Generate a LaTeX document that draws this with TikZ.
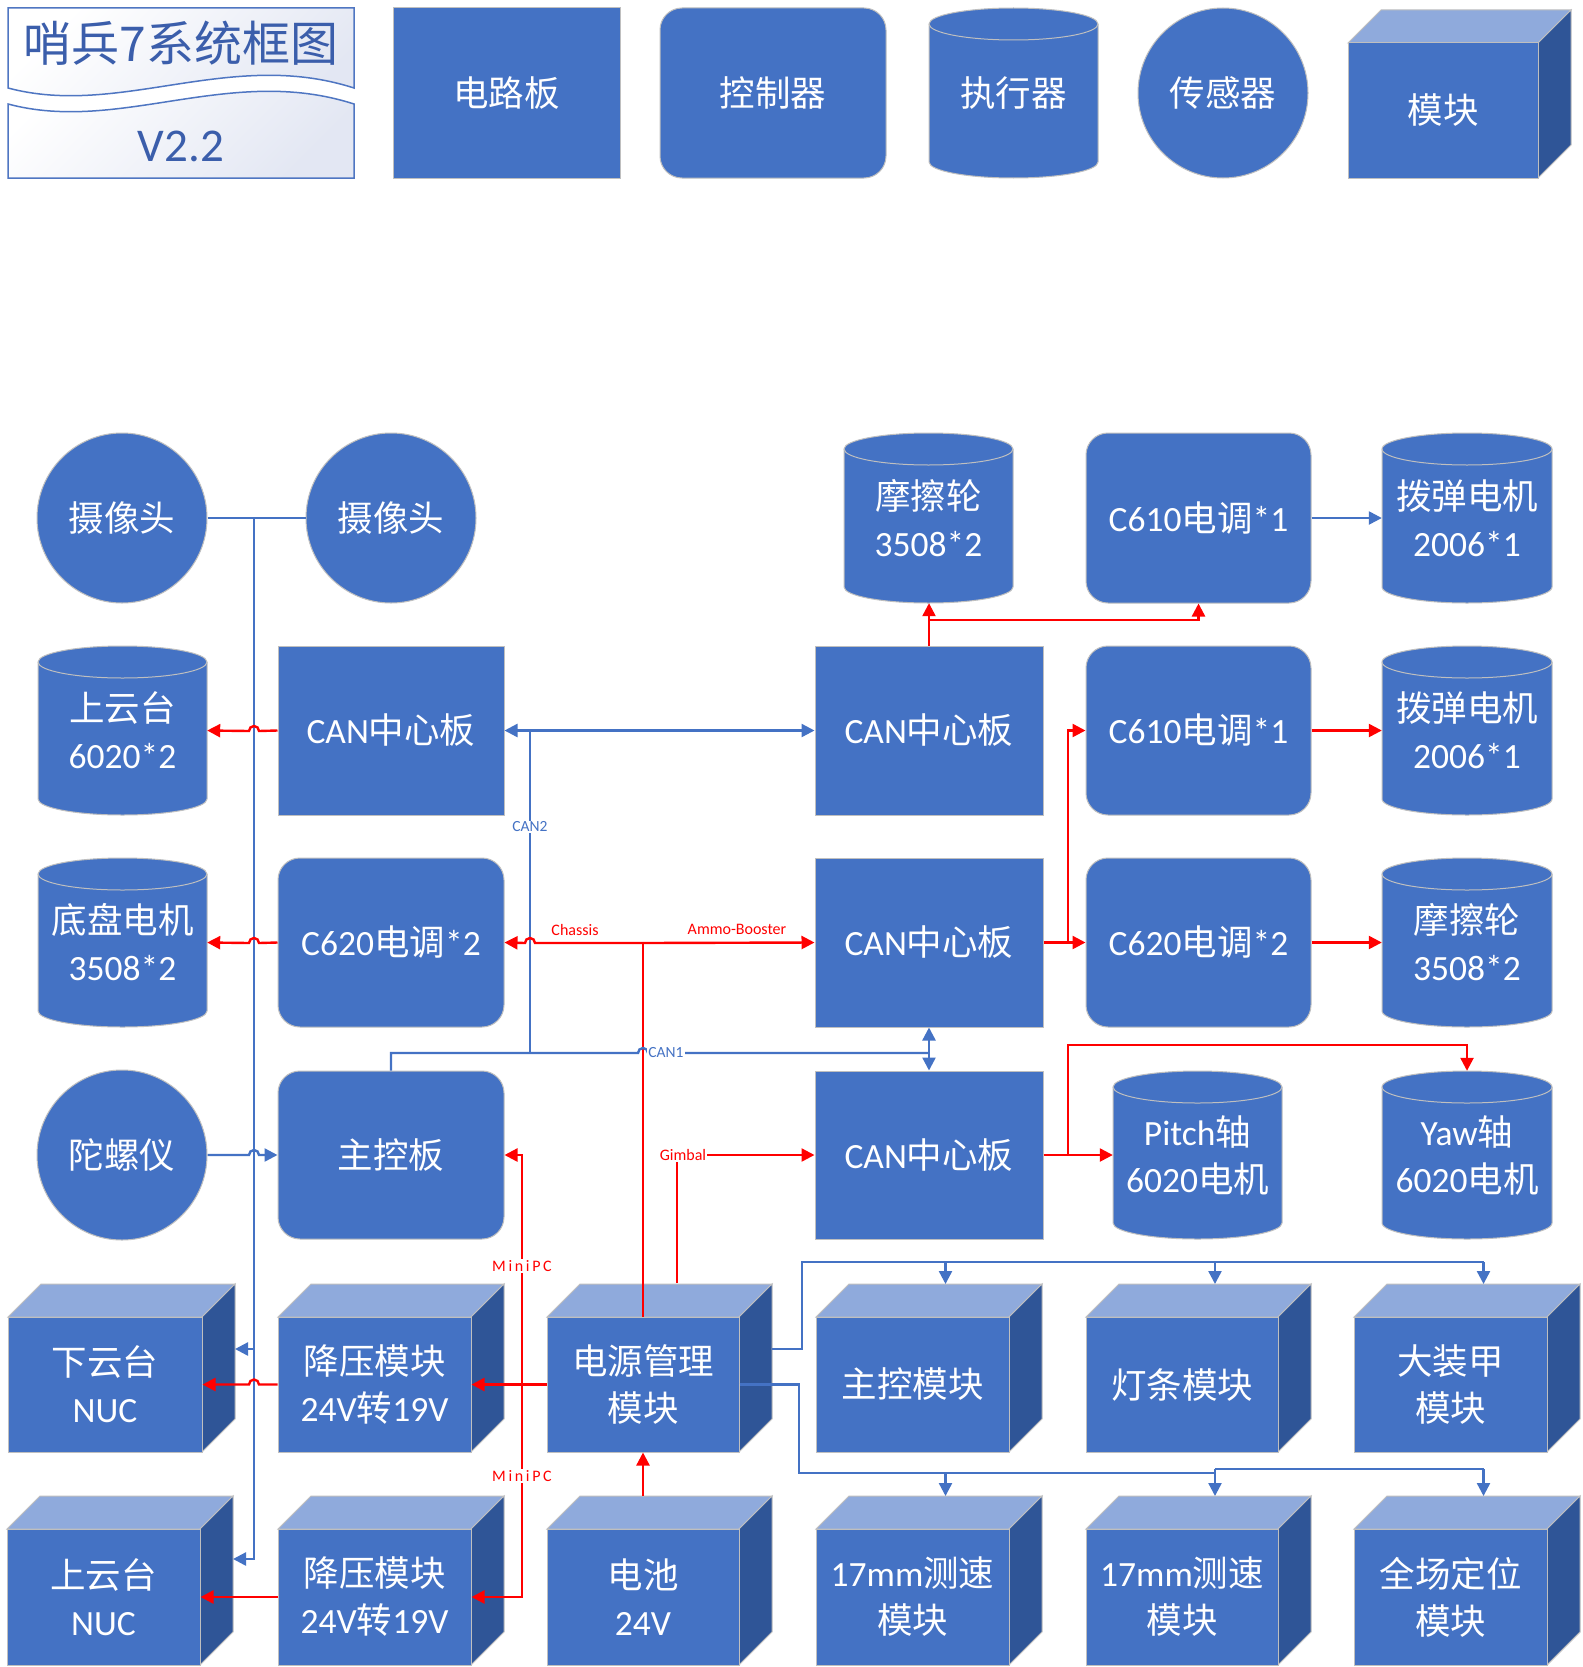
\documentclass[tikz,border=0pt]{standalone}
\usepackage{fontspec}
\setmainfont{Carlito}
\newfontfamily\cjk{Noto Sans CJK SC}
\usetikzlibrary{arrows.meta}
\definecolor{mainblue}{HTML}{4472C4}
\definecolor{cubetop}{HTML}{8FAADC}
\definecolor{cubeside}{HTML}{2F5597}
\definecolor{edgegray}{HTML}{BFBFBF}
\definecolor{lineblue}{HTML}{4472C4}
\definecolor{linered}{HTML}{FF0000}
\definecolor{titlebg}{HTML}{E3E7F3}
\definecolor{titleline}{HTML}{4F76C2}
\definecolor{titletext}{HTML}{3B5EAB}
\newcommand\zh[1]{{\cjk #1}}
\tikzset{
  base/.style={draw=edgegray, line width=1pt, fill=mainblue, text=white,
    font=\fontsize{35.5}{47}\selectfont, align=center, inner sep=0pt},
  rectbox/.style={base, rectangle},
  rbox/.style={base, rectangle, rounded corners=22pt},
  circbox/.style={base, circle, minimum size=170pt},
  textnode/.style={text=white, font=\fontsize{35.5}{47}\selectfont, align=center, inner sep=0pt},
  blueline/.style={draw=lineblue, line width=2.4pt},
  redline/.style={draw=linered, line width=2.4pt},
  arr/.style={-{Triangle[length=13pt,width=13pt]}},
  darr/.style={{Triangle[length=13pt,width=13pt]}-{Triangle[length=13pt,width=13pt]}},
  bluelabel/.style={fill=white, inner sep=1pt, text=lineblue, font=\fontsize{15.5}{18}\selectfont},
  redlabel/.style={fill=white, inner sep=1pt, text=linered, font=\fontsize{16}{18}\selectfont},
}
\newcommand\boxnode[7]{%
  \node[#1, minimum width={(#5-#3)*1pt}, minimum height={(#6-#4)*1pt}] (#2) at ({(#3+#5)/2},{(#4+#6)/2}) {#7};}
\newcommand\cylnode[6]{%
  \pgfmathsetmacro\cylrx{(#4-#2)/2}%
  \path[fill=mainblue, draw=edgegray, line width=1pt] (#2,#3+16) -- (#2,#5-16)
    arc[start angle=180, end angle=360, x radius=\cylrx pt, y radius=16pt] -- (#4,#3+16)
    arc[start angle=0, end angle=180, x radius=\cylrx pt, y radius=16pt] -- cycle;
  \draw[edgegray, line width=1pt] (#2,#3+16) arc[start angle=180, end angle=360, x radius=\cylrx pt, y radius=16pt];
  \node[textnode, minimum width={(#4-#2)*1pt}, minimum height={(#5-#3)*1pt}] (#1) at ({(#2+#4)/2},{(#3+#5)/2}) {#6};}
\newcommand\cubenode[6]{%
  \path[fill=cubetop, draw=edgegray, line width=1pt] (#2,#3) -- (#2+33,#3-33) -- (#4+33,#3-33) -- (#4,#3) -- cycle;
  \path[fill=cubeside, draw=edgegray, line width=1pt] (#4,#3) -- (#4+33,#3-33) -- (#4+33,#5-33) -- (#4,#5) -- cycle;
  \node[rectbox, minimum width={(#4-#2)*1pt}, minimum height={(#5-#3)*1pt}] (#1) at ({(#2+#4)/2},{(#3+#5)/2}) {#6};}
\begin{document}
\begin{tikzpicture}[x=1pt, y=-1pt]
\fill[white] (0,0) rectangle (1582,1667);
\useasboundingbox (0,0) rectangle (1582,1667);

% ---------- title ----------
\draw[draw=titleline, line width=1.5pt, top color=white, bottom color=titlebg, shading angle=45]
  (8,8) -- (354,8) -- (354,88) .. controls (230,48) and (120,118) .. (8,88) -- cycle;
\draw[draw=titleline, line width=1.5pt, top color=white, bottom color=titlebg, shading angle=45]
  (8,104) .. controls (120,134) and (230,64) .. (354,104) -- (354,178) -- (8,178) -- cycle;
\node[font=\cjk\fontsize{48}{52}\selectfont, text=titletext, inner sep=0pt] (title) at (181,43) {哨兵7系统框图};
\node[font=\fontsize{47}{52}\selectfont, text=titletext, inner sep=0pt] (ver) at (181,146) {V2.2};

% ---------- legend ----------
\boxnode{rectbox}{lgA}{393}{8}{620}{178}{\zh{电路板}}
\boxnode{rbox}{lgB}{660}{8}{886}{178}{\zh{控制器}}
\cylnode{lgC}{929}{8}{1098}{178}{\zh{执行器}}
\node[circbox] (lgD) at (1223,93) {\zh{传感器}};
\cubenode{lgE}{1348}{43}{1538}{178}{\zh{模块}}

% ---------- row 1 ----------
\node[circbox] (cam1) at (122,518) {\zh{摄像头}};
\node[circbox] (cam2) at (391,518) {\zh{摄像头}};
\cylnode{fric1}{844}{433}{1013}{603}{\zh{摩擦轮}\\3508*2}
\boxnode{rbox}{c610a}{1086}{433}{1311}{603}{C610\zh{电调}*1}
\cylnode{bod1}{1382}{433}{1552}{603}{\zh{拨弹电机}\\2006*1}

% ---------- row 2 ----------
\cylnode{gim}{38}{646}{207}{815}{\zh{上云台}\\6020*2}
\boxnode{rectbox}{canA}{278}{646}{504}{815}{CAN\zh{中心板}}
\boxnode{rectbox}{canB}{815}{646}{1043}{815}{CAN\zh{中心板}}
\boxnode{rbox}{c610b}{1086}{646}{1311}{815}{C610\zh{电调}*1}
\cylnode{bod2}{1382}{646}{1552}{815}{\zh{拨弹电机}\\2006*1}

% ---------- row 3 ----------
\cylnode{chas}{38}{858}{207}{1027}{\zh{底盘电机}\\3508*2}
\boxnode{rbox}{c620a}{278}{858}{504}{1027}{C620\zh{电调}*2}
\boxnode{rectbox}{canC}{815}{858}{1043}{1027}{CAN\zh{中心板}}
\boxnode{rbox}{c620b}{1086}{858}{1311}{1027}{C620\zh{电调}*2}
\cylnode{fric2}{1382}{858}{1552}{1027}{\zh{摩擦轮}\\3508*2}

% ---------- row 4 ----------
\node[circbox] (gyro) at (122,1155) {\zh{陀螺仪}};
\boxnode{rbox}{mcb}{278}{1071}{504}{1239}{\zh{主控板}}
\boxnode{rectbox}{canD}{815}{1071}{1043}{1239}{CAN\zh{中心板}}
\cylnode{pitch}{1113}{1071}{1282}{1239}{Pitch\zh{轴}\\6020\zh{电机}}
\cylnode{yaw}{1382}{1071}{1552}{1239}{Yaw\zh{轴}\\6020\zh{电机}}

% ---------- row 5 ----------
\cubenode{nuc1}{8}{1317}{202}{1452}{\zh{下云台}\\NUC}
\cubenode{buck1}{278}{1317}{471}{1452}{\zh{降压模块}\\24V\zh{转}19V}
\cubenode{pwr}{547}{1317}{739}{1452}{\zh{电源管理}\\\zh{模块}}
\cubenode{mod1}{816}{1317}{1009}{1452}{\zh{主控模块}}
\cubenode{mod2}{1086}{1317}{1278}{1452}{\zh{灯条模块}}
\cubenode{mod3}{1354}{1317}{1547}{1452}{\zh{大装甲}\\\zh{模块}}

% ---------- row 6 ----------
\cubenode{nuc2}{7}{1529}{200}{1665}{\zh{上云台}\\NUC}
\cubenode{buck2}{278}{1529}{471}{1665}{\zh{降压模块}\\24V\zh{转}19V}
\cubenode{bat}{547}{1529}{739}{1665}{\zh{电池}\\24V}
\cubenode{spd1}{816}{1529}{1009}{1665}{17mm\zh{测速}\\\zh{模块}}
\cubenode{spd2}{1086}{1529}{1278}{1665}{17mm\zh{测速}\\\zh{模块}}
\cubenode{loc}{1354}{1529}{1547}{1665}{\zh{全场定位}\\\zh{模块}}

% ---------- connectors ----------
% cameras to NUCs
\draw[blueline] (cam1.east) -- (cam2.west);
\coordinate (vJ) at (254,518);
\coordinate (vN1) at (254,1349);
\coordinate (vN2) at (254,1559);
\coordinate (nuc1in) at (235,1349);
\coordinate (nuc2in) at (233,1559);
\draw[blueline, arr] (vJ) -- (vN2) -- (nuc2in);
\draw[blueline, arr] (vN1) -- (nuc1in);

% row 1
\draw[redline, arr] (canB.north) -- (canB.north |- fric1.south);
\coordinate (fj) at (929,620);
\draw[redline, arr] (fj) -- (fj -| c610a.south) -- (c610a.south);
\draw[blueline, arr] (c610a.east) -- (bod1.west);

% row 2
\draw[redline, arr] (canA.west) -- (259,731) arc[start angle=0, end angle=180, radius=5pt] -- (gim.east);
\draw[blueline, darr] (canA.east) -- (canB.west);
\coordinate (c2top) at (530,731);
\coordinate (c2bot) at (530,1053);
\draw[blueline] (c2top) -- (c2bot);
\draw[redline, arr] (c610b.east) -- (bod2.west);

% row 3
\coordinate (pj) at (643,943);
\draw[redline] (pwr.north) -- (pj);
\draw[redline, arr] (pj) -- (535,943) arc[start angle=0, end angle=180, radius=5pt] -- (c620a.east);
\draw[redline, arr] (pj) -- (canC.west);
\draw[redline, arr] (c620a.west) -- (259,943) arc[start angle=0, end angle=180, radius=5pt] -- (chas.east);
\coordinate (rj) at (1068,943);
\draw[redline, arr] (canC.east) -- (c620b.west);
\draw[redline, arr] (rj) -- (rj |- c610b.west) -- (c610b.west);
\draw[redline, arr] (c620b.east) -- (fric2.west);
\node[redlabel, fill=none] (lblch) at (575,930) {Chassis};
\node[redlabel, fill=none] (lblam) at (737,929) {Ammo-Booster};

% CAN1 bus
\coordinate (c1a) at (391,1053);
\draw[blueline] (mcb.north) -- (c1a) -- (638,1053) arc[start angle=180, end angle=0, radius=5pt] -- (929,1053);
\draw[blueline, darr] (canC.south) -- (canD.north);
\node[bluelabel] (lblcan2) at (530,827) {CAN2};
\node[bluelabel] (lblcan1) at (666,1053) {CAN1};

% row 4
\draw[blueline, arr] (gyro.east) -- (249,1155) arc[start angle=180, end angle=0, radius=5pt] -- (mcb.west);
\coordinate (gb) at (677,1283);
\coordinate (gc) at (677,1155);
\draw[redline, arr] (gb) -- (gc) -- (canD.west);
\node[redlabel] (lblgim) at (683,1155) {Gimbal};
\draw[redline, arr] (canD.east) -- (pitch.west);
\coordinate (yj) at (1068,1155);
\coordinate (yk) at (1068,1045);
\draw[redline, arr] (yj) -- (yk) -- (yk -| yaw.north) -- (yaw.north);

% MiniPC
\coordinate (mpT) at (522,1155);
\draw[redline, darr] (mcb.east) -- (mpT) -- (mpT |- buck2.east) -- (buck2.east);
\node[redlabel] (lblmp1) at (522,1266) {M\,i\,n\,i\,P\,C};
\node[redlabel] (lblmp2) at (522,1476) {M\,i\,n\,i\,P\,C};

% row 5/6 power
\draw[redline, arr] (pwr.west) -- (buck1.east);
\draw[redline, arr] (buck1.west) -- (259,1384.5) arc[start angle=0, end angle=180, radius=5pt] -- (nuc1.east);
\draw[redline, arr] (buck2.west) -- (nuc2.east);
\coordinate (batTop) at (643,1496);
\draw[redline, arr] (batTop) -- (pwr.south);

% blue power buses
\coordinate (pb1) at (772,1349);
\coordinate (pb2) at (802,1349);
\coordinate (pb3) at (802,1262);
\draw[blueline] (pb1) -- (pb2) -- (pb3) -- (1483.5,1262);
\draw[blueline, arr] (945.5,1262) -- (945.5,1284);
\draw[blueline, arr] (1215,1262) -- (1215,1284);
\draw[blueline, arr] (1483.5,1262) -- (1483.5,1284);
\coordinate (pl1) at (799,1384.5);
\coordinate (pl2) at (799,1473);
\draw[blueline] (pwr.east) -- (pl1) -- (pl2) -- (1215,1473);
\draw[blueline, arr] (945.5,1473) -- (945.5,1496);
\draw[blueline, arr] (1215,1469) -- (1215,1496);
\draw[blueline] (1215,1469) -- (1483.5,1469);
\draw[blueline, arr] (1483.5,1469) -- (1483.5,1496);
\end{tikzpicture}
\end{document}
